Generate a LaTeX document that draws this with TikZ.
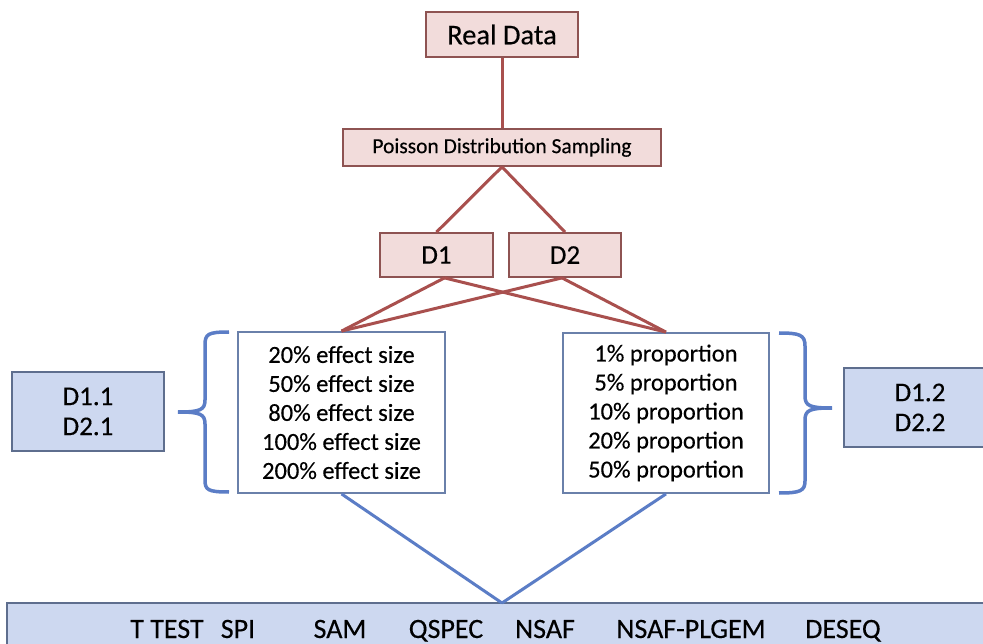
\documentclass[tikz,border=0pt]{standalone}
\usepackage{fontspec}
\setmainfont{Carlito}[FakeBold=0.35]
\definecolor{pinkfill}{HTML}{F2DCDB}
\definecolor{pinkdraw}{HTML}{8E5352}
\definecolor{redline}{HTML}{A9504E}
\definecolor{bluefill}{HTML}{CDD8F0}
\definecolor{bluedraw}{HTML}{5E6E8E}
\definecolor{blueline}{HTML}{5B7DC6}
\definecolor{boxdraw}{HTML}{6A80AA}
\tikzset{
  pinkbox/.style={draw=pinkdraw, fill=pinkfill, line width=1.8pt, inner sep=0pt},
  bluebox/.style={draw=bluedraw, fill=bluefill, line width=1.8pt, inner sep=0pt, align=center, font=\fontsize{27}{30}\selectfont},
  listbox/.style={draw=boxdraw, fill=white, line width=1.8pt, inner sep=0pt, align=center, font=\fontsize{24.5}{29}\selectfont},
  redconn/.style={draw=redline, line width=3pt},
  blueconn/.style={draw=blueline, line width=3pt},
  bracestyle/.style={draw=blueline, line width=3.5pt},
  method/.style={anchor=base, font=\fontsize{28}{30}\selectfont}
}
\begin{document}
\begin{tikzpicture}[x=1pt, y=-1pt]
\clip (0,0) rectangle (983,644);
\fill[white] (0,0) rectangle (983,644);

\node[pinkbox, minimum width=152pt, minimum height=45pt, font=\fontsize{28.5}{30}\selectfont] (real) at (502,34.5) {Real Data};
\node[pinkbox, minimum width=318pt, minimum height=37pt, font=\fontsize{21.5}{24}\selectfont] (pois) at (502,147.5) {Poisson Distribution Sampling};
\node[pinkbox, minimum width=113pt, minimum height=44pt, font=\fontsize{27}{30}\selectfont] (d1) at (436.5,255) {D1};
\node[pinkbox, minimum width=112pt, minimum height=44pt, font=\fontsize{27}{30}\selectfont] (d2) at (565,255) {D2};

\node[listbox, minimum width=207pt, minimum height=161pt] (eff) at (341.5,412.5) {20\% effect size\\50\% effect size\\80\% effect size\\100\% effect size\\200\% effect size};
\node[listbox, minimum width=206pt, minimum height=160pt] (prop) at (666,413) {1\% proportion\\5\% proportion\\10\% proportion\\20\% proportion\\50\% proportion};

\node[bluebox, minimum width=152pt, minimum height=79pt] (dl) at (88,411.5) {D1.1\\D2.1};
\node[bluebox, minimum width=152pt, minimum height=79pt] (dr) at (920,407.5) {D1.2\\D2.2};

\node[draw=bluedraw, fill=bluefill, line width=1.8pt, minimum width=993pt, minimum height=60pt, inner sep=0pt] (methods) at (503.5,633) {};
\coordinate (apex) at (502,603);

\node[method] (m1) at (167,638) {T TEST};
\node[method] (m2) at (238,638) {SPI};
\node[method] (m3) at (340,638) {SAM};
\node[method] (m4) at (446,638) {QSPEC};
\node[method] (m5) at (545,638) {NSAF};
\node[method] (m6) at (691,638) {NSAF-PLGEM};
\node[method] (m7) at (843,638) {DESEQ};

% red connectors
\draw[redconn] (real.south) -- (pois.north);
\draw[redconn] (pois.south) -- (d1.north);
\draw[redconn] (pois.south) -- (d2.north);
\draw[redconn] ([xshift=8pt]d1.south) -- (eff.north);
\draw[redconn] ([xshift=8pt]d1.south) -- (prop.north);
\draw[redconn] ([xshift=-3pt]d2.south) -- (eff.north);
\draw[redconn] ([xshift=-3pt]d2.south) -- (prop.north);

% blue connectors
\draw[blueconn] (eff.south) -- (apex);
\draw[blueconn] (prop.south) -- (apex);

% braces
\draw[bracestyle] (229,332) .. controls (208,332) and (205,334) .. (205,345) -- (205,400)
  .. controls (205,410) and (200,412) .. (178,412)
  .. controls (200,412) and (205,414) .. (205,424) -- (205,480)
  .. controls (205,490) and (208,492) .. (229,492);
\draw[bracestyle] (779,333) .. controls (800,333) and (805,335) .. (805,346) -- (805,396)
  .. controls (805,406) and (810,408) .. (832,408)
  .. controls (810,408) and (805,410) .. (805,420) -- (805,481)
  .. controls (805,491) and (800,493) .. (779,493);
\end{tikzpicture}
\end{document}
